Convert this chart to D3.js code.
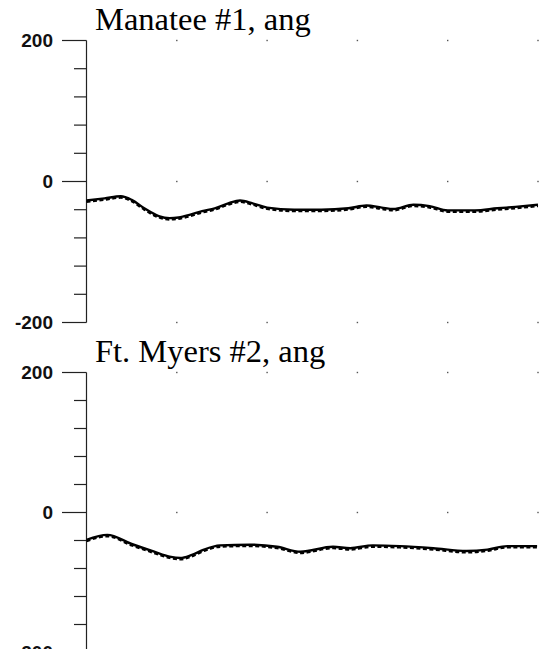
<!DOCTYPE html>
<html>
<head>
<meta charset="utf-8">
<script src="https://cdn.jsdelivr.net/npm/d3@7"></script>
<style>
  html, body { margin: 0; padding: 0; background: #fff; }
  svg { display: block; }
</style>
</head>
<body>
<div id="chart"></div>
<script>
// ---- data ----
const panelTitles = ["Manatee #1, ang", "Ft. Myers #2, ang"];
const majorTicks = [200, 0, -200];
const minorTicks = [160, 120, 80, 40, -40, -80, -120, -160];
const xGrid = [1, 2, 3, 4, 5];

const topT     = [0, 0.2, 0.38, 0.5, 0.64, 0.8, 0.92, 1.02, 1.15, 1.28, 1.42, 1.57, 1.7, 1.84, 2.0, 2.3, 2.6, 2.9, 3.1, 3.27, 3.4, 3.62, 3.8, 4.0, 4.3, 4.55, 4.75, 5.0];
const topSolid = [-27, -24, -21, -26, -38, -49, -52, -51, -47, -42, -38, -31, -27, -31, -37, -40, -40, -38, -34, -37, -39, -33, -35, -41, -41, -38, -36, -33];
const topDash  = [-29, -26, -23, -28, -40, -51, -54, -53, -49, -44, -40, -33, -29, -33, -39, -42, -42, -40, -36, -39, -41, -35, -37, -43, -43, -40, -38, -35];

const botT     = [0, 0.23, 0.5, 0.75, 0.92, 1.04, 1.16, 1.3, 1.48, 1.81, 2.11, 2.37, 2.73, 2.92, 3.17, 3.47, 3.84, 4.21, 4.44, 4.66, 4.99];
const botSolid = [-39, -32, -45, -56, -63, -65, -61, -53, -47, -46, -49, -56, -49, -51, -47, -48, -51, -55, -53, -48, -48];
const botDash  = [-41, -34, -47, -58, -65, -67, -63, -55, -49, -48, -51, -58, -51, -53, -49, -50, -53, -57, -55, -50, -50];

// ---- drawing ----
const W = 545, H = 649;
const svg = d3.select("#chart").append("svg").attr("width", W).attr("height", H);

const x = d3.scaleLinear().domain([0, 5]).range([86.5, 538]);

const panels = [
  { title: panelTitles[0], y: d3.scaleLinear().domain([-200, 200]).range([322.5, 40.5]), titleY: 30,
    t: topT, solid: topSolid, dash: topDash },
  { title: panelTitles[1], y: d3.scaleLinear().domain([-200, 200]).range([652.5, 372.5]), titleY: 362,
    t: botT, solid: botSolid, dash: botDash }
];

panels.forEach(p => {
  const g = svg.append("g");
  // axis line
  g.append("line")
    .attr("x1", x(0)).attr("x2", x(0))
    .attr("y1", p.y(200)).attr("y2", p.y(-200))
    .attr("stroke", "#222").attr("stroke-width", 1.2);

  // major ticks
  g.selectAll(".maj").data(majorTicks).enter().append("line")
    .attr("x1", 62).attr("x2", x(0))
    .attr("y1", d => p.y(d)).attr("y2", d => p.y(d))
    .attr("stroke", "#222").attr("stroke-width", 1.2);
  // minor ticks
  g.selectAll(".min").data(minorTicks).enter().append("line")
    .attr("x1", 74).attr("x2", x(0))
    .attr("y1", d => p.y(d)).attr("y2", d => p.y(d))
    .attr("stroke", "#222").attr("stroke-width", 1.2);

  // tick labels
  g.selectAll(".lab").data(majorTicks).enter().append("text")
    .attr("x", 53).attr("y", d => p.y(d))
    .attr("dy", "0.36em")
    .attr("text-anchor", "end")
    .attr("font-family", "Liberation Sans, Arial, sans-serif")
    .attr("font-weight", "bold")
    .attr("font-size", 19)
    .attr("fill", "#111")
    .text(d => d);

  // grid dots
  const dots = [];
  xGrid.forEach(gx => majorTicks.forEach(gy => dots.push([gx, gy])));
  g.selectAll(".dot").data(dots).enter().append("rect")
    .attr("x", d => x(d[0]) - 0.7).attr("y", d => p.y(d[1]) - 0.7)
    .attr("width", 1.4).attr("height", 1.4)
    .attr("fill", "#555");

  // title
  g.append("text")
    .attr("x", 95).attr("y", p.titleY)
    .attr("font-family", "Liberation Serif, Times New Roman, serif")
    .attr("font-size", 32.5)
    .attr("fill", "#000")
    .text(p.title);

  const idx = d3.range(p.t.length);
  const lineSolid = d3.line().x(i => x(p.t[i])).y(i => p.y(p.solid[i])).curve(d3.curveMonotoneX);
  const lineDash = d3.line().x(i => x(p.t[i])).y(i => p.y(p.dash[i])).curve(d3.curveMonotoneX);

  g.append("path").attr("d", lineDash(idx))
    .attr("fill", "none").attr("stroke", "#000")
    .attr("stroke-width", 2.2).attr("stroke-dasharray", "4,2.5");
  g.append("path").attr("d", lineSolid(idx))
    .attr("fill", "none").attr("stroke", "#000")
    .attr("stroke-width", 2.4);
});
</script>
</body>
</html>
